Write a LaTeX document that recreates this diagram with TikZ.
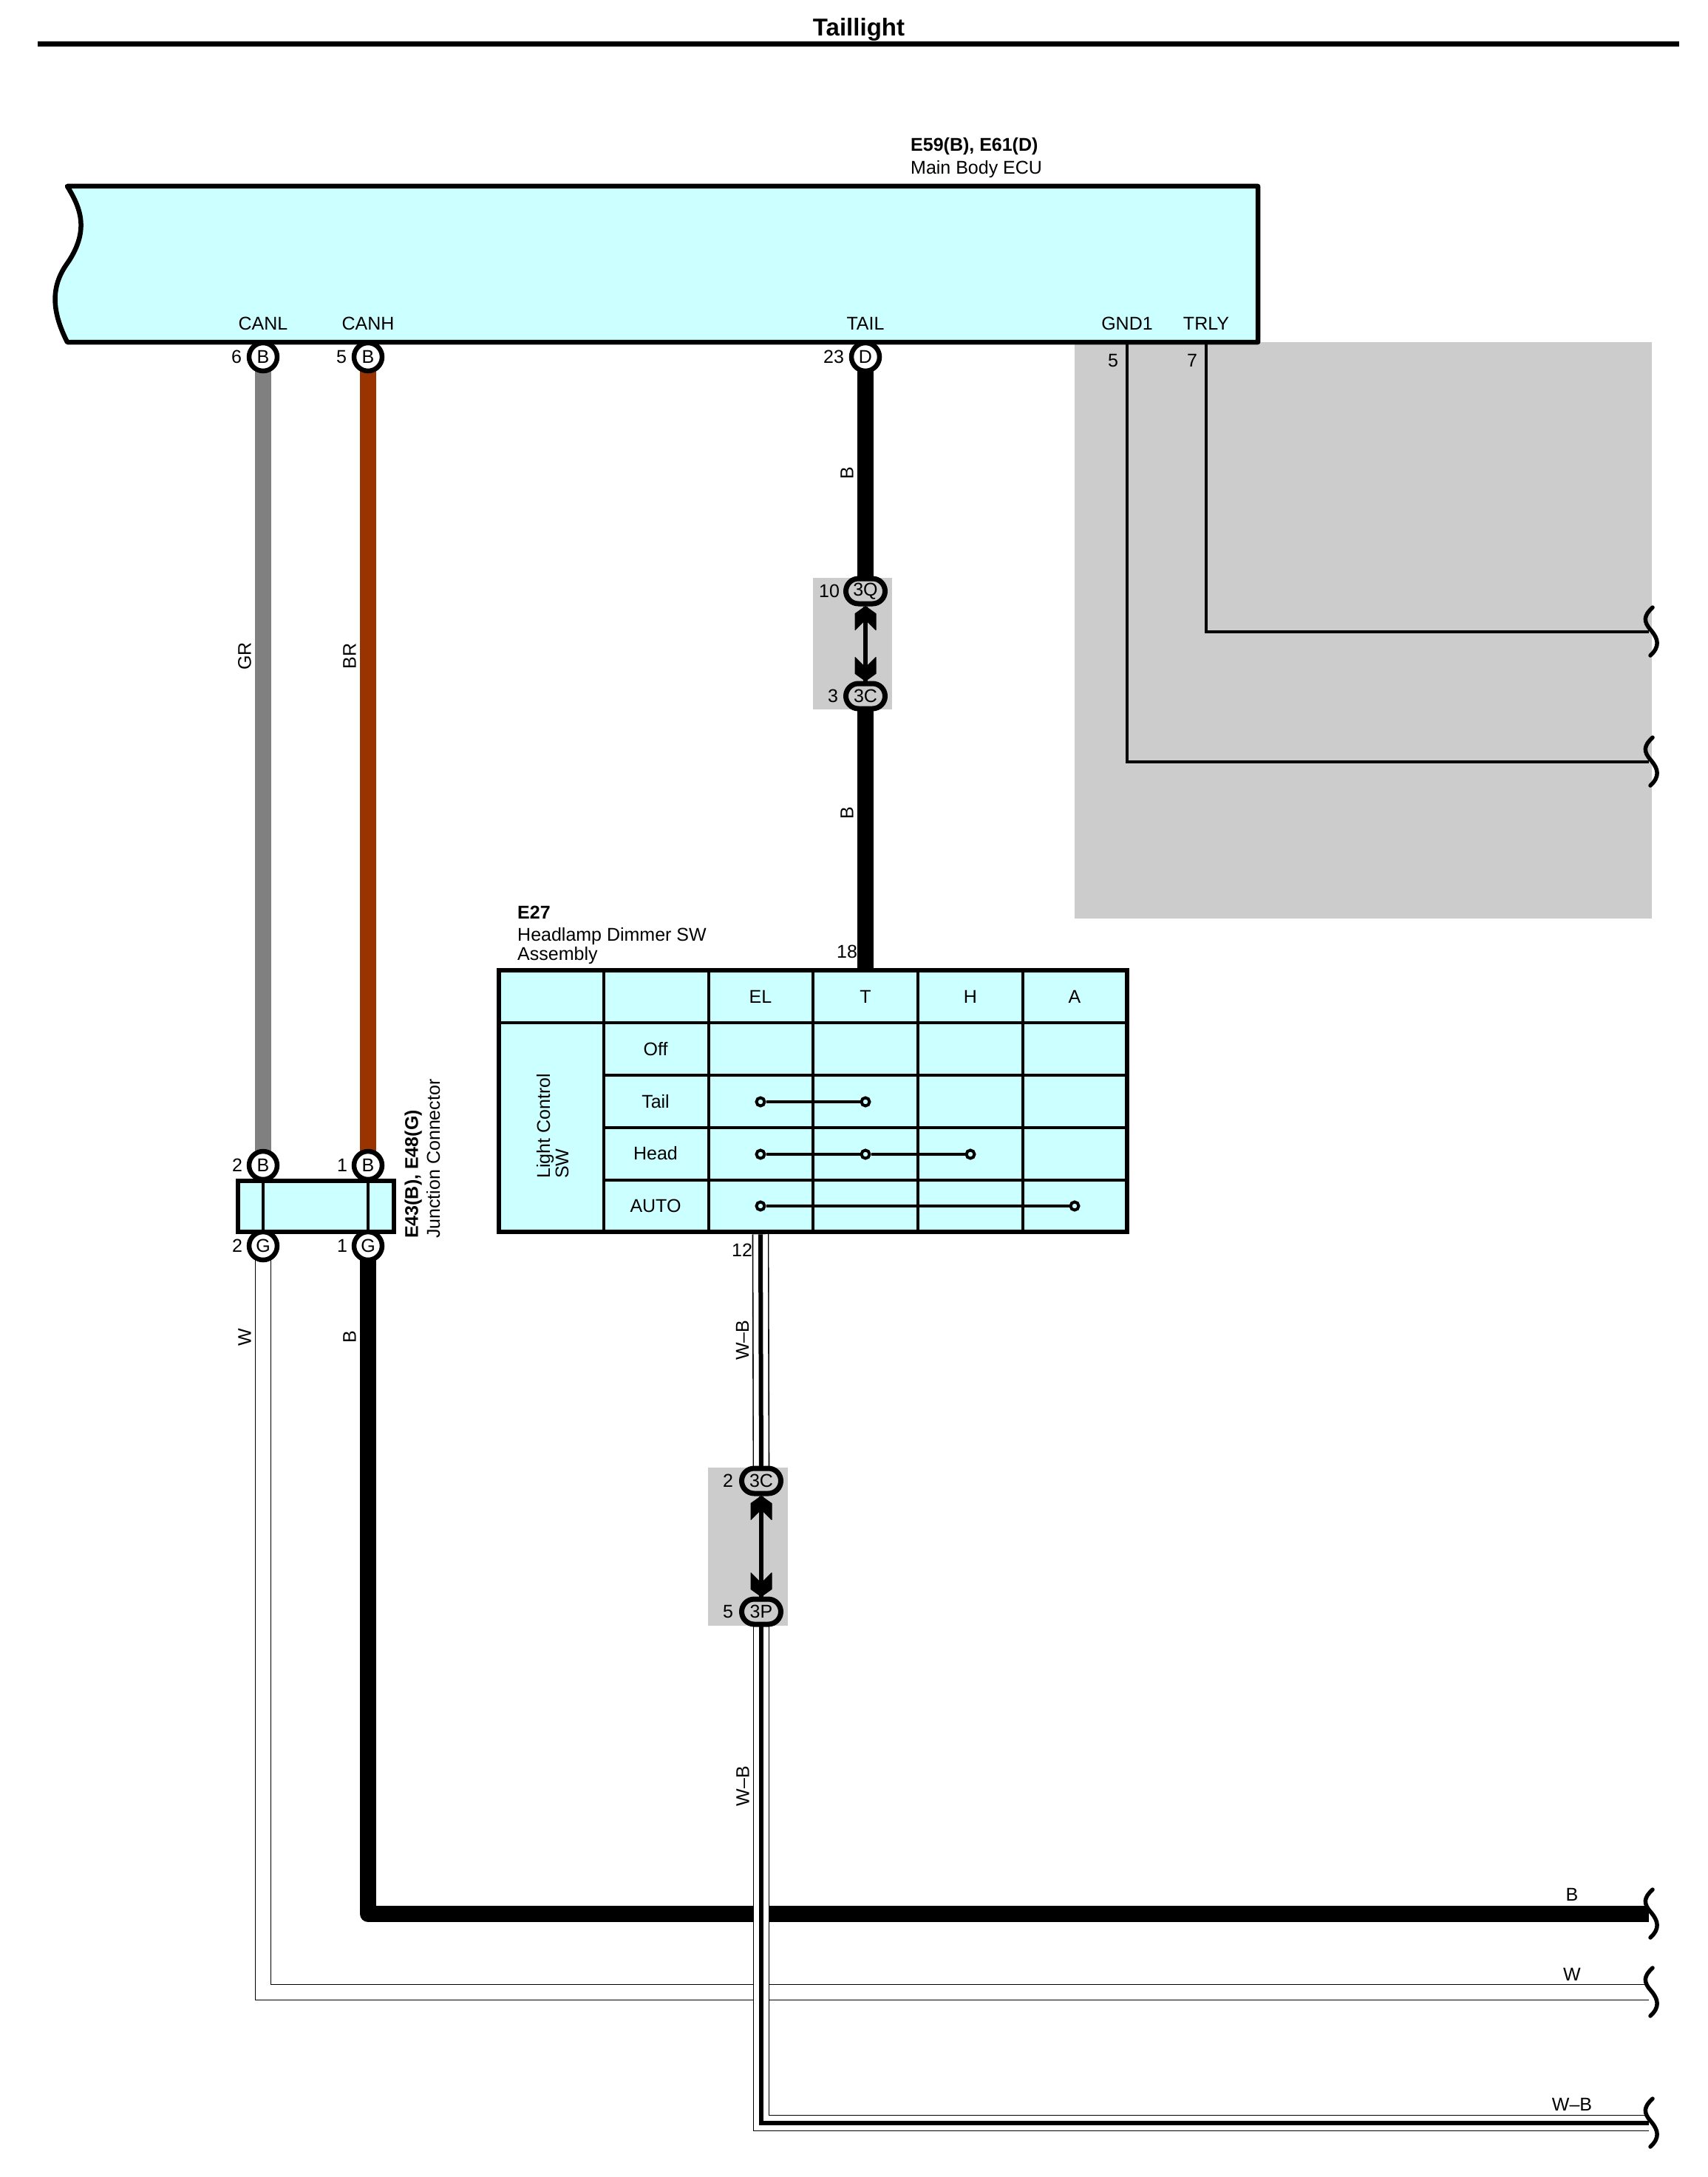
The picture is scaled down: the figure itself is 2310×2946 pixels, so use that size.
\documentclass[tikz,border=0pt]{standalone}
\usepackage{fontspec}
\setmainfont{Liberation Sans}
\usepackage{tikz}
\usetikzlibrary{backgrounds,%
                shapes.misc}
\definecolor{boxcyan}{HTML}{CCFFFF}
\definecolor{shadegray}{HTML}{CCCCCC}
\definecolor{wiregray}{HTML}{808080}
\definecolor{wirebrown}{HTML}{993300}

\newcommand{\linkarrow}[2]{
  \draw[line width=6pt] (#1.south) -- (#2.north);
  \fill[link tip, shift={(#1.south)}] (0,0) -- (14,10) -- (14,32) -- (0,18) -- (-14,32) -- (-14,10) -- cycle;
  \fill[link tip, shift={(#2.north)}, yscale=-1] (0,0) -- (14,10) -- (14,32) -- (0,18) -- (-14,32) -- (-14,10) -- cycle;
}

\begin{document}
\begin{tikzpicture}[x=1pt, y=-1pt, node distance=142pt,
    text node/.style={font=\fontsize{25}{26}\selectfont, inner sep=0pt},
    bold node/.style={text node, font=\fontsize{25}{26}\selectfont\bfseries},
    wire label/.style={text node, xshift=-25pt, rotate=90},
    pin node/.style={text node, draw, fill=white, circle, line width=6.5pt, minimum size=38pt},
    link node/.style={text node, draw, fill=shadegray, rounded rectangle, line width=7pt,
                      minimum width=53pt, minimum height=34pt},
    box node/.style={draw, fill=boxcyan, line width=6.5pt, inner sep=0pt},
    dot node/.style={draw, fill=boxcyan, circle, line width=4pt, inner sep=0pt, minimum size=11pt},
    link tip/.style={draw, line width=1pt, line join=round},
    thin wire/.style={line width=4.5pt},
    thick wire/.style={line width=22pt, line join=round},
    white wire/.style={double=white, double distance=19.5pt, line width=1.6pt},
    core wire/.style={line width=6pt},
    grid line/.style={line width=4.5pt},
    pics/cutmark/.style={code={
      \draw[line width=5.5pt, line cap=round]
        (5,-33) .. controls (-7,-22) and (-8,-14) .. (3,-2) .. controls (13,10) and (15,20) .. (2,32);
    }}]
  \useasboundingbox (0,0) rectangle (2310,2946);

  % title
  \node[bold node, font=\fontsize{33}{34}\selectfont\bfseries] (title) at (1162,40) {Taillight};
  \draw[line width=7pt] (51,60) -- (2272,60);

  % main body ecu
  \draw[box node, line join=round] (91,252) -- (1702,252) -- (1702,463) -- (91,463)
    .. controls (72,425) and (66,390) .. (92,355)
    .. controls (122,310) and (108,280) .. (91,252) -- cycle;
  \coordinate (ecubot) at (1000,463);
  \node[bold node, anchor=base west] (ecucode) at (1232,205) {E59(B), E61(D)};
  \node[text node, anchor=base west] (ecuname) at (1232,236) {Main Body ECU};

  \node[pin node] (canl) at (356,483) {B};
  \node[pin node] (canh) [right of=canl] {B};
  \node[pin node] (tail) at (1171,483) {D};
  \node[text node] (lcanl) [above of=canl, node distance=45pt] {CANL};
  \node[text node] (lcanh) [above of=canh, node distance=45pt] {CANH};
  \node[text node] (ltail) [above of=tail, node distance=45pt] {TAIL};
  \node[text node] (lgnd) at (1525,438) {GND1};
  \node[text node] (ltrly) at (1632,438) {TRLY};
  \node[text node] (n6) [left of=canl, node distance=36pt] {6};
  \node[text node] (n5) [left of=canh, node distance=36pt] {5};
  \node[text node] (n23) [left of=tail, node distance=43pt] {23};
  \node[text node] (n5g) at (1506,488) {5};
  \node[text node] (n7) at (1613,488) {7};

  % junction connector
  \node[box node, minimum width=211pt, minimum height=69pt] (jbox) at (427.5,1632.5) {};
  \node[pin node] (jb2) at (356,1577) {B};
  \node[pin node] (jb1) [right of=jb2] {B};
  \node[pin node] (jg2) at (356,1686) {G};
  \node[pin node] (jg1) [right of=jg2] {G};
  \draw[grid line] (jb2) -- (jg2);
  \draw[grid line] (jb1) -- (jg1);
  \node[text node] (n2a) [left of=jb2, node distance=35pt] {2};
  \node[text node] (n1a) [left of=jb1, node distance=35pt] {1};
  \node[text node] (n2b) [left of=jg2, node distance=35pt] {2};
  \node[text node] (n1b) [left of=jg1, node distance=35pt] {1};
  \node[bold node, rotate=90, anchor=base west] (jcode) at (565.5,1676) {E43(B), E48(G)};
  \node[text node, rotate=90, anchor=base west] (jname) at (595,1676) {Junction Connector};

  % headlamp dimmer switch
  \node[box node, minimum width=850pt, minimum height=354pt] (sw) at (1100,1490) {};
  \foreach \x in {817,959,1100,1242,1384}
    \draw[grid line] (\x,1313) -- (\x,1667);
  \draw[grid line] (675,1384) -- (1525,1384);
  \foreach \y in {1455,1526,1597}
    \draw[grid line] (817,\y) -- (1525,\y);
  \node[bold node, anchor=base west] (swcode) at (700,1243) {E27};
  \node[text node, anchor=base west] (swname) at (700,1273) {Headlamp Dimmer SW};
  \node[text node, anchor=base west] (swname2) at (700,1299) {Assembly};
  \foreach \x/\t in {1029/EL,1171/T,1313/H,1454/A}
    \node[text node] (col\t) at (\x,1349) {\t};
  \foreach \y/\t in {1420/Off,1491/Tail,1561/Head,1632/AUTO}
    \node[text node] (row\t) at (887,\y) {\t};
  \node[text node, rotate=90, anchor=base west] (lctrl) at (744,1595) {Light Control};
  \node[text node, rotate=90, anchor=base west] (lctrl2) at (769,1595) {SW};
  \node[text node] (n18) at (1146,1288) {18};
  \node[text node] (n12) at (1004,1692) {12};

  \node[dot node] (tel) at (1029,1491) {};
  \node[dot node] (tt) [right of=tel] {};
  \node[dot node] (hel) at (1029,1562) {};
  \node[dot node] (ht) [right of=hel] {};
  \node[dot node] (hh) [right of=ht] {};
  \node[dot node] (ael) at (1029,1632) {};
  \node[dot node] (aa) at (1454,1632) {};
  \draw[grid line] (tel) -- (tt);
  \draw[grid line] (hel) -- (ht);
  \draw[grid line] (ht) -- (hh);
  \draw[grid line] (ael) -- (aa);

  % connector pairs
  \node[link node] (c3q) at (1171,800) {3Q};
  \node[link node] (c3c) [below of=c3q] {3C};
  \node[text node] (n10) [left of=c3q, node distance=49pt] {10};
  \node[text node] (n3) [left of=c3c, node distance=44pt] {3};
  \linkarrow{c3q}{c3c}
  \node[link node] (d3c) at (1030,2004) {3C};
  \node[link node] (d3p) [below of=d3c, node distance=177pt] {3P};
  \node[text node] (n2c) [left of=d3c, node distance=45pt] {2};
  \node[text node] (n5c) [left of=d3p, node distance=45pt] {5};
  \linkarrow{d3c}{d3p}

  % free ends
  \coordinate (endt) at (2231,855);
  \coordinate (endg) at (2231,1031);
  \coordinate (endb) at (2231,2590);
  \coordinate (endw) at (2231,2696);
  \coordinate (endwb) at (2231,2873);
  \pic at (endt) {cutmark};
  \pic at (endg) {cutmark};
  \pic at (endb) {cutmark};
  \pic at (endw) {cutmark};
  \pic at (endwb) {cutmark};
  \node[text node] (lb) at (2127,2564) {B};
  \node[text node] (lw) at (2127,2672) {W};
  \node[text node] (lwb) at (2127,2848) {W--B};

  \begin{scope}[on background layer]
    \fill[shadegray] (1454,463) rectangle (2235,1243);
    \fill[shadegray] (1100,782) rectangle (1207,960);
    \fill[shadegray] (958,1986) rectangle (1066,2200);

    \draw[thin wire] (lgnd |- ecubot) |- (endg);
    \draw[thin wire] (ltrly |- ecubot) |- (endt);

    \path (canl.center) edge[line width=22pt, wiregray]
          node[wire label, text=black, pos=.37] (lgr) {GR} (jb2.center);
    \path (canh.center) edge[line width=22pt, wirebrown]
          node[wire label, text=black, pos=.37] (lbr) {BR} (jb1.center);
    \path[line width=22pt] (tail.center) edge node[wire label, text=black, pos=.495] (lb1) {B} (c3q.center)
          (c3c.center) edge node[wire label, text=black, pos=.43] (lb2) {B} (tt |- sw.north);

    \draw[white wire] (jg2.center) |- node[wire label, pos=.061] (lw1) {W} (endw);
    \draw[thick wire] (jg1.center) |- node[wire label, pos=.068] (lb3) {B} (endb);

    \draw[white wire] (d3c.center) -- (tel |- sw.south);
    \draw[core wire] (d3c.center) -- node[wire label, pos=.57] (lwb1) {W--B} (tel |- sw.south);
    \draw[white wire] (d3p.center) |- (endwb);
    \draw[core wire] (d3p.center) |- node[wire label, pos=.1705] (lwb2) {W--B} (endwb);
  \end{scope}
\end{tikzpicture}
\end{document}
